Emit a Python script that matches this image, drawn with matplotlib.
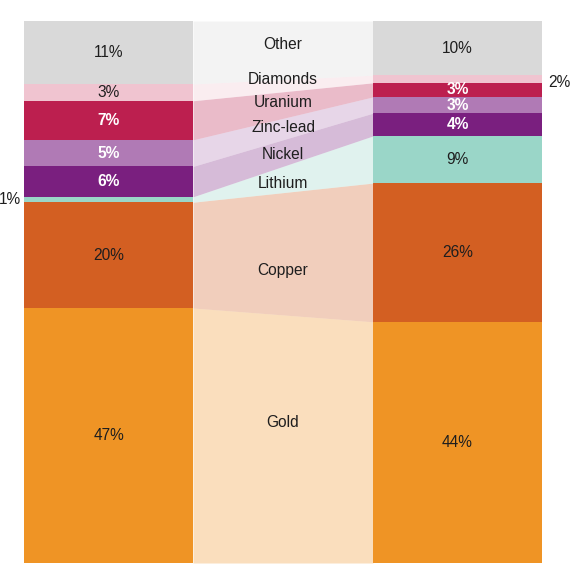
import matplotlib
matplotlib.use('Agg')
import matplotlib.pyplot as plt
import numpy as np

plt.rcParams['font.family'] = ['Liberation Sans', 'DejaVu Sans']

# データ (下から上へ)
categories = ['Gold', 'Copper', 'Lithium', 'Nickel', 'Zinc-lead', 'Uranium', 'Diamonds', 'Other']
left_labels = [47, 20, 1, 6, 5, 7, 3, 11]
right_labels = [44, 26, 9, 4, 3, 3, 2, 10]
# 図から読み取ったシェア (%)
left_share = [47.0, 19.5, 1.0, 5.6, 4.9, 7.2, 3.1, 11.6]
right_share = [44.5, 25.6, 8.7, 4.2, 3.0, 2.6, 1.4, 10.0]
colors = ['#ef9425', '#d35f22', '#9ad6c8', '#7a1f7f', '#b07ab5', '#bc1f4f', '#f0c4d0', '#d9d9d9']
white_text = ['Nickel', 'Zinc-lead', 'Uranium']

# 中央ラベルの微調整 (y方向)
nudge = {'Gold': 3.1, 'Copper': -3.0, 'Lithium': -0.7, 'Nickel': -0.2,
         'Zinc-lead': 0.2, 'Uranium': 0.5, 'Diamonds': 1.2, 'Other': 1.1}

def stack(vals):
    v = np.array(vals, dtype=float)
    v = v / v.sum() * 100
    top = np.cumsum(v)
    return top - v, top

lb, lt = stack(left_share)
rb, rt = stack(right_share)

fig = plt.figure(figsize=(5.83, 5.82), dpi=100)
ax = fig.add_axes([24 / 583, 19 / 582, 518 / 583, 542 / 582])

x_l0, x_l1 = 0.0, 1.0
x_r0, x_r1 = 2.065, 3.065
fs = 11.2
dark = '#1e1e1e'

for i, cat in enumerate(categories):
    c = colors[i]
    ax.fill_between([x_l0, x_l1], lb[i], lt[i], color=c, linewidth=0)
    ax.fill_between([x_r0, x_r1], rb[i], rt[i], color=c, linewidth=0)
    # 中央の帯
    ax.fill_between([x_l1, x_r0], [lb[i], rb[i]], [lt[i], rt[i]], color=c, alpha=0.3, linewidth=0)

    tc = 'white' if cat in white_text else dark
    fw = 'bold' if cat in white_text else 'normal'
    # 左の値
    if left_labels[i] >= 2:
        ax.text((x_l0 + x_l1) / 2, (lb[i] + lt[i]) / 2, f'{left_labels[i]}%', ha='center', va='center',
                fontsize=fs, color=tc, fontweight=fw)
    else:
        ax.text(x_l0 - 0.018, (lb[i] + lt[i]) / 2, f'{left_labels[i]}%', ha='right', va='center',
                fontsize=fs, color=dark, clip_on=False)
    # 右の値
    if right_labels[i] >= 3:
        ax.text((x_r0 + x_r1) / 2, (rb[i] + rt[i]) / 2, f'{right_labels[i]}%', ha='center', va='center',
                fontsize=fs, color=tc, fontweight=fw)
    else:
        ax.text(x_r1 + 0.035, (rb[i] + rt[i]) / 2 - 0.6, f'{right_labels[i]}%', ha='left', va='center',
                fontsize=fs, color=dark, clip_on=False)
    # カテゴリ名
    xm = (x_l1 + x_r0) / 2
    ym = ((lb[i] + rb[i]) / 2 + (lt[i] + rt[i]) / 2) / 2 + nudge[cat]
    ax.text(xm, ym, cat, ha='center', va='center', fontsize=fs, color=dark)

ax.set_xlim(x_l0, x_r1)
ax.set_ylim(0, 100)
ax.axis('off')

plt.savefig('out.png', dpi=100)
